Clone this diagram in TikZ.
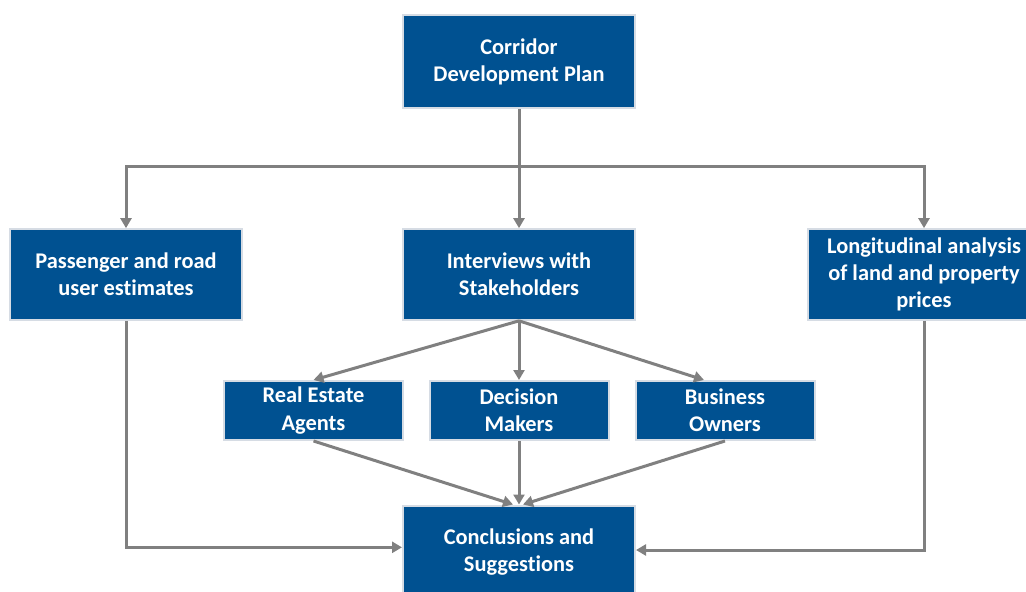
\documentclass[tikz,border=0pt]{standalone}
\usepackage{fontspec}
\setmainfont{Carlito}[Ligatures=NoCommon]
\usepackage{xcolor}
\usetikzlibrary{calc, arrows.meta}
\definecolor{boxblue}{RGB}{0,81,145}
\definecolor{boxedge}{RGB}{214,220,228}
\definecolor{linkgray}{RGB}{128,128,128}
\begin{document}
\begin{tikzpicture}[x=0.75pt, y=-0.75pt,
    bigbox/.style={draw=boxedge, line width=1.5pt, fill=boxblue, text=white,
      font=\fontsize{16.8}{20.5}\selectfont\bfseries, align=center,
      minimum width=174pt, minimum height=69.75pt, inner sep=0pt},
    smallbox/.style={bigbox, minimum width=134.25pt, minimum height=44.25pt},
    link/.style={draw=linkgray, line width=2.25pt,
      -{Triangle[length=7.5pt, width=8.25pt]}},
    plain/.style={draw=linkgray, line width=2.25pt}]
    % Page size
    \useasboundingbox (0,0) rectangle (1026,592);

    % Draw the boxes
    \node[bigbox] (plan) at (519,62) {Corridor\\Development Plan};
    \node[bigbox, minimum height=68pt] (pass) at (126,274.5) {Passenger and road\\user estimates};
    \node[bigbox, minimum height=68pt] (inter) at (519,274.5) {Interviews with\\Stakeholders};
    \node[bigbox, minimum height=68pt] (longi) at (924,274.5) {Longitudinal analysis\\of land and property\\prices};
    \node[smallbox] (agents) at (313.5,410.5) {Real Estate\\Agents};
    \node[smallbox] (makers) at (519,410.5) {Decision\\Makers};
    \node[smallbox] (owners) at (725,410.5) {Business\\Owners};
    \node[bigbox] (concl) at (519,552) {Conclusions and\\Suggestions};

    % Branch line under the plan
    \coordinate (split) at (519,167);
    \draw[plain] (plan.south) -- (split);
    \draw[link] (split) -| (pass.north);
    \draw[link] (split) -- (inter.north);
    \draw[link] (split) -| (longi.north);

    % Interviews to the three groups
    \draw[link] (inter.south) -- (agents.north);
    \draw[link] (inter.south) -- (makers.north);
    \draw[link] (inter.south) -- ([xshift=-15.75pt]owners.north);

    % Groups to conclusions
    \draw[link] (agents.south) -- ([xshift=-4.5pt]concl.north);
    \draw[link] (makers.south) -- (concl.north);
    \draw[link] (owners.south) -- ([xshift=3pt]concl.north);

    % Side branches to conclusions
    \draw[link] (pass.south) |- ([yshift=3.5pt]concl.west);
    \draw[link] (longi.south) |- ([yshift=1.5pt]concl.east);
\end{tikzpicture}
\end{document}
